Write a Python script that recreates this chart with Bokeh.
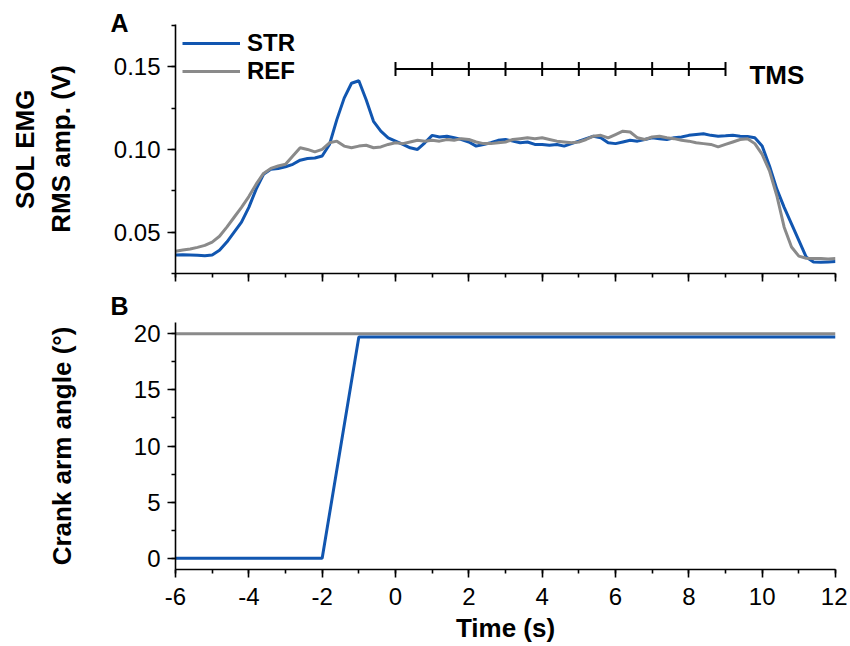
from bokeh.plotting import figure
from bokeh.models import (Range1d, SingleIntervalTicker, NumeralTickFormatter, Label, Legend, LegendItem,
                          Title, CustomJSTickFormatter)
from bokeh.layouts import column
from bokeh.embed import file_html
from bokeh.resources import INLINE

# ---------------- data ----------------
time_emg = [-6.0, -5.8, -5.6, -5.4, -5.2, -5.0, -4.8, -4.6, -4.4, -4.2, -4.0, -3.8, -3.6, -3.4, -3.2,
            -3.0, -2.8, -2.6, -2.4, -2.2, -2.0, -1.8, -1.6, -1.4, -1.2, -1.0, -0.8, -0.6, -0.4, -0.2,
            0.0, 0.2, 0.4, 0.6, 0.8, 1.0, 1.2, 1.4, 1.6, 1.8, 2.0, 2.2, 2.4, 2.6, 2.8,
            3.0, 3.2, 3.4, 3.6, 3.8, 4.0, 4.2, 4.4, 4.6, 4.8, 5.0, 5.2, 5.4, 5.6, 5.8,
            6.0, 6.2, 6.4, 6.6, 6.8, 7.0, 7.2, 7.4, 7.6, 7.8, 8.0, 8.2, 8.4, 8.6, 8.8,
            9.0, 9.2, 9.4, 9.6, 9.8, 10.0, 10.2, 10.4, 10.6, 10.8, 11.0, 11.2, 11.4, 11.6, 11.8, 12.0]

emg_str = [0.0362, 0.0363, 0.0362, 0.0360, 0.0358, 0.0362, 0.0390, 0.0440, 0.0500, 0.0560, 0.0650, 0.0760, 0.0850, 0.0880, 0.0885,
           0.0895, 0.0910, 0.0935, 0.0945, 0.0948, 0.0960, 0.1030, 0.1180, 0.1310, 0.1400, 0.1415, 0.1300, 0.1170, 0.1110, 0.1070,
           0.1050, 0.1030, 0.1010, 0.1000, 0.1040, 0.1085, 0.1075, 0.1080, 0.1070, 0.1060, 0.1045, 0.1020, 0.1030, 0.1040, 0.1055,
           0.1060, 0.1050, 0.1040, 0.1045, 0.1030, 0.1030, 0.1025, 0.1030, 0.1020, 0.1035, 0.1050, 0.1065, 0.1080, 0.1070, 0.1040,
           0.1035, 0.1045, 0.1055, 0.1050, 0.1060, 0.1070, 0.1065, 0.1060, 0.1070, 0.1075, 0.1085, 0.1090, 0.1095, 0.1085, 0.1080,
           0.1082, 0.1085, 0.1080, 0.1078, 0.1070, 0.1020, 0.0900, 0.0760, 0.0650, 0.0550, 0.0450, 0.0350, 0.0320, 0.0318, 0.0320, 0.0322]

emg_ref = [0.0385, 0.0392, 0.0398, 0.0408, 0.0420, 0.0440, 0.0475, 0.0530, 0.0590, 0.0650, 0.0715, 0.0790, 0.0855, 0.0885, 0.0900,
           0.0910, 0.0960, 0.1010, 0.1000, 0.0985, 0.1000, 0.1040, 0.1050, 0.1020, 0.1010, 0.1020, 0.1025, 0.1010, 0.1015, 0.1030,
           0.1040, 0.1035, 0.1045, 0.1055, 0.1050, 0.1055, 0.1050, 0.1060, 0.1055, 0.1065, 0.1060, 0.1045, 0.1035, 0.1035, 0.1040,
           0.1045, 0.1060, 0.1065, 0.1070, 0.1065, 0.1070, 0.1060, 0.1050, 0.1045, 0.1040, 0.1045, 0.1060, 0.1080, 0.1085, 0.1070,
           0.1090, 0.1110, 0.1105, 0.1070, 0.1060, 0.1075, 0.1080, 0.1070, 0.1065, 0.1055, 0.1050, 0.1040, 0.1035, 0.1030, 0.1015,
           0.1030, 0.1045, 0.1060, 0.1065, 0.1035, 0.0970, 0.0870, 0.0720, 0.0530, 0.0410, 0.0355, 0.0342, 0.0340, 0.0340, 0.0338, 0.0340]

time_angle_str = [-6, -2, -1, 12]
angle_str = [0, 0, 19.7, 19.7]
time_angle_ref = [-6, 12]
angle_ref = [20, 20]

tms_times = [0, 1, 2, 3, 4, 5, 6, 7, 8, 9]
x_tick_labels = {-6: "-6", -4: "-4", -2: "-2", 0: "0", 2: "2", 4: "4", 6: "6", 8: "8", 10: "10", 12: "12"}

BLUE = "#1156b0"
GRAY = "#8a8a8a"
FONT = "Liberation Sans"


def style(p):
    p.xgrid.visible = False
    p.ygrid.visible = False
    p.outline_line_color = None
    for ax in (p.xaxis[0], p.yaxis[0]):
        ax.axis_line_width = 1.6
        ax.axis_line_color = "black"
        ax.major_tick_line_width = 1.6
        ax.minor_tick_line_width = 1.6
        ax.major_tick_out = 8
        ax.major_tick_in = 0
        ax.minor_tick_out = 4
        ax.minor_tick_in = 0
        ax.major_label_text_font = FONT
        ax.major_label_text_font_size = "24px"
        ax.major_label_text_color = "black"
        ax.axis_label_text_font = FONT
        ax.axis_label_text_font_size = "26px"
        ax.axis_label_text_font_style = "bold"
        ax.axis_label_text_color = "black"
        ax.major_label_standoff = 7


def panel_letter(p, letter, offset, standoff):
    p.add_layout(Title(text=letter, align="left", offset=offset, standoff=standoff,
                       text_font=FONT, text_font_size="25px", text_font_style="bold",
                       text_color="black"), "above")


# ---------------- panel A ----------------
p1 = figure(frame_width=660, frame_height=249, output_backend="svg", toolbar_location=None,
            x_range=Range1d(-6, 12), y_range=Range1d(0.025, 0.1755),
            min_border_left=175, min_border_right=12, min_border_top=24, min_border_bottom=14)
style(p1)
p1.xaxis.ticker = SingleIntervalTicker(interval=2, num_minor_ticks=2)
p1.xaxis.formatter = CustomJSTickFormatter(code="return ''")
p1.xaxis.major_label_standoff = 0
p1.yaxis.ticker = SingleIntervalTicker(interval=0.05, num_minor_ticks=2)
p1.yaxis.formatter = NumeralTickFormatter(format="0.00")
p1.yaxis.axis_label = "SOL EMG\nRMS amp. (V)"
p1.yaxis.axis_label_standoff = 35
panel_letter(p1, "A", -65, -24)

r_str = p1.line(time_emg, emg_str, line_color=BLUE, line_width=3)
r_ref = p1.line(time_emg, emg_ref, line_color=GRAY, line_width=3)

# TMS pulse bar
bar_y = 0.1486
p1.segment(x0=[tms_times[0]], x1=[tms_times[-1]], y0=[bar_y], y1=[bar_y], line_color="black", line_width=2)
p1.segment(x0=tms_times, x1=tms_times, y0=[bar_y - 0.0042] * len(tms_times), y1=[bar_y + 0.0042] * len(tms_times),
           line_color="black", line_width=2)
p1.add_layout(Label(x=10.4, y=0.1448, text="TMS", text_font=FONT, text_font_size="26px", text_font_style="bold",
                    text_align="center", text_baseline="middle", text_color="black"))

legend = Legend(items=[LegendItem(label="STR", renderers=[r_str]), LegendItem(label="REF", renderers=[r_ref])],
                location=(7, 188), border_line_color=None, background_fill_alpha=0, padding=0, margin=0,
                spacing=0, glyph_width=58, glyph_height=24, label_height=24, label_standoff=7,
                label_text_font=FONT, label_text_font_size="24px", label_text_font_style="bold",
                label_text_color="black")
p1.add_layout(legend)

# ---------------- panel B ----------------
p2 = figure(frame_width=660, frame_height=247, output_backend="svg", toolbar_location=None,
            x_range=Range1d(-6, 12), y_range=Range1d(-1, 21),
            min_border_left=175, min_border_right=12, min_border_top=34, min_border_bottom=64)
style(p2)
p2.xaxis.ticker = SingleIntervalTicker(interval=2, num_minor_ticks=2)
p2.xaxis.major_label_overrides = x_tick_labels
p2.xaxis.major_label_standoff = 10
p2.yaxis.ticker = SingleIntervalTicker(interval=5, num_minor_ticks=2)
p2.xaxis.axis_label = "Time (s)"
p2.xaxis.axis_label_standoff = 5
p2.yaxis.axis_label = "Crank arm angle (°)"
p2.yaxis.axis_label_standoff = 54
panel_letter(p2, "B", -65, 5)

p2.line(time_angle_ref, angle_ref, line_color=GRAY, line_width=3)
p2.line(time_angle_str, angle_str, line_color=BLUE, line_width=3)

layout = column(p1, p2, spacing=0)
open("out.html", "w").write(file_html(layout, INLINE))
